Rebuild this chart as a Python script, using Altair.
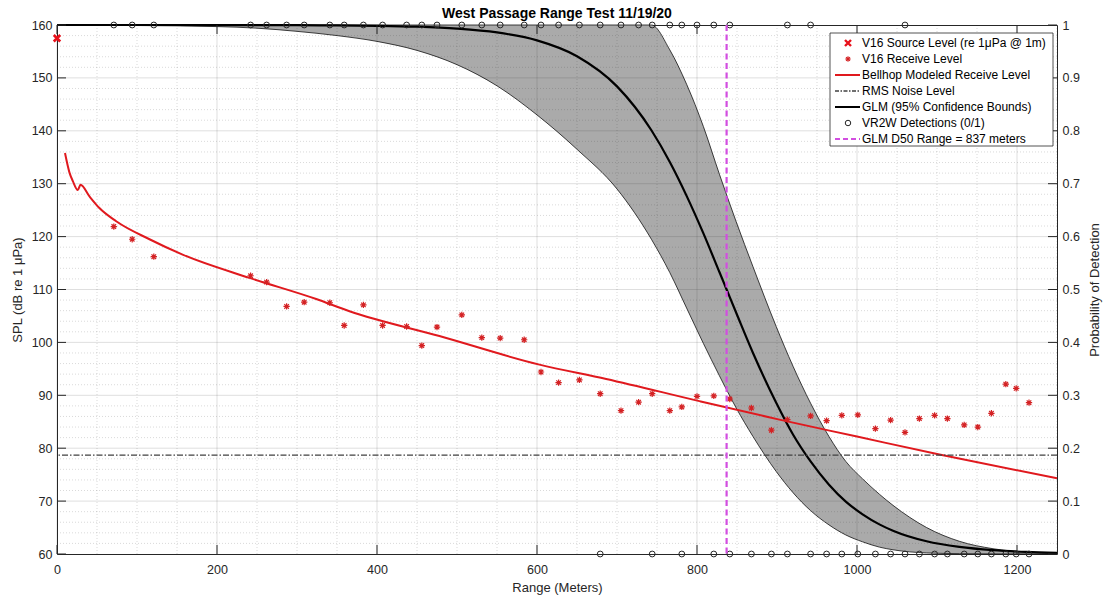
import altair as alt
import pandas as pd

FONT = "Liberation Sans"
TXT = "#262626"

# ---------------- data ----------------
# Bellhop modeled receive level (range m, SPL dB)
model_range = [10, 15.6, 19.8, 26, 29.4, 40.6, 53, 74, 115.6, 157, 240.6, 324, 365.6, 478,
               603, 686.5, 803, 903, 1000, 1103, 1250]
model_spl = [135.8, 132.1, 130.5, 128.8, 129.8, 127.6, 125.4, 122.9, 119.5, 116.6, 112.2, 108.2,
             105.9, 101.2, 95.8, 93.1, 88.9, 85.4, 82.2, 78.8, 74.3]

# V16 receive level points
recv_range = [71, 94, 121, 242, 262, 287, 309, 341, 359, 383, 407, 437, 456, 475, 506, 531, 554,
              584, 605, 627, 653, 679, 705, 727, 744, 766, 781, 800, 821, 841, 868, 893, 913, 942,
              962, 981, 1001, 1023, 1042, 1060, 1078, 1097, 1113, 1134, 1151, 1168, 1186, 1199, 1215]
recv_spl = [121.9, 119.5, 116.2, 112.6, 111.4, 106.8, 107.6, 107.5, 103.2, 107.1, 103.2, 103.0,
            99.4, 102.9, 105.2, 100.9, 100.8, 100.5, 94.4, 92.4, 92.9, 90.3, 87.1, 88.7, 90.3,
            87.1, 87.8, 89.8, 89.9, 89.3, 87.6, 83.4, 85.4, 86.1, 85.2, 86.2, 86.3, 83.7, 85.3,
            83.0, 85.6, 86.2, 85.6, 84.4, 84.0, 86.6, 92.1, 91.3, 88.6]

# V16 source level
src_range = [0]
src_spl = [157.5]

# RMS noise level
noise_spl = [78.7]

# GLM 95% confidence band
band_range = [0, 100, 200, 250, 300, 350, 400, 450, 500, 550, 600, 650, 700, 743, 766, 787, 808,
              828, 849, 870, 899, 920, 942, 965, 986, 1007, 1028, 1045, 1087, 1128, 1170, 1212, 1250]
band_lower = [0.9995, 0.999, 0.997, 0.994, 0.988, 0.980, 0.969, 0.952, 0.925, 0.885, 0.830, 0.765,
              0.690, 0.595, 0.532, 0.465, 0.398, 0.337, 0.276, 0.222, 0.156, 0.116, 0.082, 0.055,
              0.036, 0.023, 0.013, 0.008, 0.002, 0.0007, 0.0003, 0.0001, 0.0]
band_upper = [1.0, 1.0, 1.0, 1.0, 1.0, 1.0, 1.0, 1.0, 1.0, 1.0, 1.0, 1.0, 1.0, 1.0, 0.953, 0.888,
              0.808, 0.718, 0.628, 0.543, 0.430, 0.355, 0.285, 0.222, 0.175, 0.142, 0.113, 0.092,
              0.050, 0.024, 0.010, 0.0035, 0.0012]

# GLM fit
glm_range = [0, 100, 200, 300, 350, 400, 450, 500, 550, 600, 650, 700, 743, 766, 787, 808,
             828, 837, 849, 870, 899, 920, 942, 965, 986, 1007, 1028, 1045, 1087, 1128, 1170, 1212, 1250]
glm_p = [1.0, 1.0, 0.9999, 0.9996, 0.9993, 0.9985, 0.9968, 0.9932, 0.9859, 0.971, 0.941, 0.884,
         0.801, 0.741, 0.677, 0.606, 0.533, 0.500, 0.456, 0.380, 0.286, 0.226, 0.175, 0.131,
         0.099, 0.075, 0.056, 0.044, 0.024, 0.0133, 0.0072, 0.0039, 0.0022]

# VR2W detections (0/1)
det_range = [71, 94, 121, 242, 262, 287, 309, 341, 359, 383, 407, 437, 456, 475, 506, 531, 554,
             584, 605, 627, 653, 679, 705, 727, 744, 766, 781, 800, 821, 841, 913, 942, 1060,
             679, 744, 781, 821, 841, 868, 893, 913, 942, 962, 981, 1001, 1023, 1042, 1060, 1078,
             1097, 1113, 1134, 1151, 1168, 1186, 1199, 1215]
det_value = [1] * 33 + [0] * 24

d50_range = [837]

# axis / grid positions
x_major = [0, 200, 400, 600, 800, 1000, 1200]
x_minor = [v for v in range(50, 1251, 50) if v % 200 != 0]
spl_major = [60, 70, 80, 90, 100, 110, 120, 130, 140, 150, 160]
p_major = [0, 0.1, 0.2, 0.3, 0.4, 0.5, 0.6, 0.7, 0.8, 0.9, 1]
p_grid_major = [0.1, 0.2, 0.3, 0.4, 0.5, 0.6, 0.7, 0.8, 0.9]
p_grid_minor = [round(i * 0.02, 2) for i in range(1, 50) if i % 5 != 0]

legend_labels = ["V16 Source Level (re 1μPa @ 1m)", "V16 Receive Level",
                 "Bellhop Modeled Receive Level", "RMS Noise Level",
                 "GLM (95% Confidence Bounds)", "VR2W Detections (0/1)",
                 "GLM D50 Range = 837 meters"]

# ---------------- styling ----------------
W, H = 1000, 529
RED = "#e0191e"
RED_PT = "#d42224"
MAG = "#d24ee0"
XPATH = "M-1,-1L1,1M-1,1L1,-1"
STAR = "M-1,0L1,0M0,-1L0,1M-0.72,-0.72L0.72,0.72M-0.72,0.72L0.72,-0.72"

xscale = alt.Scale(domain=[0, 1250], nice=False, zero=False)
yscale = alt.Scale(domain=[60, 160], nice=False, zero=False)
pscale = alt.Scale(domain=[0, 1], nice=False, zero=False)

xaxis = alt.Axis(values=x_major, format="d", title="Range (Meters)", grid=False, ticks=False,
                 domain=False, labelFlush=False, labelPadding=9, titlePadding=6,
                 labelFontSize=12.5, titleFontSize=13, titleFontWeight="normal",
                 labelColor=TXT, titleColor=TXT, labelFont=FONT, titleFont=FONT)
yaxis = alt.Axis(values=spl_major, title="SPL (dB re 1 μPa)", grid=False, ticks=False,
                 domain=False, orient="left", labelFlush=False, labelPadding=5, titlePadding=7,
                 labelFontSize=12.5, titleFontSize=13, titleFontWeight="normal",
                 labelColor=TXT, titleColor=TXT, labelFont=FONT, titleFont=FONT)
paxis = alt.Axis(values=p_major, format="~g", title="Probability of Detection", grid=False,
                 ticks=False, domain=False, orient="right", labelFlush=False, labelPadding=5,
                 titlePadding=22, titleAngle=270, labelFontSize=12.5, titleFontSize=13,
                 titleFontWeight="normal", labelColor=TXT, titleColor=TXT, labelFont=FONT,
                 titleFont=FONT)

X = alt.X("range:Q", scale=xscale, axis=xaxis)

# ---------------- group A: band, grid, GLM (probability scale, no axis) ----------------
band_df = pd.DataFrame({"range": band_range, "lo": band_lower, "hi": band_upper})
glm_df = pd.DataFrame({"range": glm_range, "p": glm_p})
PA = lambda f: alt.Y(f, scale=pscale, axis=None)

band_area = alt.Chart(band_df).mark_area(color="#aaaaaa", opacity=1,
                                         interpolate="monotone").encode(
    x=X, y=PA("lo:Q"), y2="hi:Q")
grid_xmin = alt.Chart(pd.DataFrame({"range": x_minor})).mark_rule(
    color="#262626", opacity=0.22, strokeDash=[1, 2], strokeWidth=0.8).encode(x=X)
grid_xmaj = alt.Chart(pd.DataFrame({"range": x_major})).mark_rule(
    color="#262626", opacity=0.15, strokeWidth=1).encode(x=X)
grid_ymin = alt.Chart(pd.DataFrame({"p": p_grid_minor})).mark_rule(
    color="#262626", opacity=0.22, strokeDash=[1, 2], strokeWidth=0.8).encode(y=PA("p:Q"))
grid_ymaj = alt.Chart(pd.DataFrame({"p": p_grid_major})).mark_rule(
    color="#262626", opacity=0.15, strokeWidth=1).encode(y=PA("p:Q"))
band_lo = alt.Chart(band_df).mark_line(color="#111111", strokeWidth=0.8,
                                       interpolate="monotone").encode(x=X, y=PA("lo:Q"))
band_hi = alt.Chart(band_df).mark_line(color="#111111", strokeWidth=0.8,
                                       interpolate="monotone").encode(x=X, y=PA("hi:Q"))
glm_line = alt.Chart(glm_df).mark_line(color="#000000", strokeWidth=2.2,
                                       interpolate="monotone").encode(x=X, y=PA("p:Q"))

groupA = alt.layer(band_area, grid_xmin, grid_xmaj, grid_ymin, grid_ymaj, band_lo, band_hi,
                   glm_line)

# ---------------- group B: SPL (left axis) ----------------
Y = alt.Y("spl:Q", scale=yscale, axis=yaxis)
model_df = pd.DataFrame({"range": model_range, "spl": model_spl})
recv_df = pd.DataFrame({"range": recv_range, "spl": recv_spl})
src_df = pd.DataFrame({"range": src_range, "spl": src_spl})

model_line = alt.Chart(model_df).mark_line(color=RED, strokeWidth=2,
                                           interpolate="monotone").encode(x=X, y=Y)
recv_pts = alt.Chart(recv_df).mark_point(shape=STAR, filled=False, size=40, strokeWidth=1.2,
                                         color=RED_PT, opacity=1).encode(x=X, y=Y)
src_pt = alt.Chart(src_df).mark_point(shape=XPATH, filled=False, size=42, strokeWidth=2.6,
                                      color="#e8101a", opacity=1).encode(x=X, y=Y)
noise_rule = alt.Chart(pd.DataFrame({"spl": noise_spl})).mark_rule(
    color="#404040", strokeWidth=1.3, strokeDash=[6, 2, 1.5, 2]).encode(y=Y)
left_ticks = alt.Chart(pd.DataFrame({"spl": spl_major})).mark_rule(
    color=TXT, strokeWidth=1).encode(y=Y, x=alt.value(0), x2=alt.value(9))
bot_ticks = alt.Chart(pd.DataFrame({"range": x_major})).mark_rule(
    color=TXT, strokeWidth=1).encode(x=X, y=alt.value(H), y2=alt.value(H - 9))
top_ticks = alt.Chart(pd.DataFrame({"range": x_major})).mark_rule(
    color=TXT, strokeWidth=1).encode(x=X, y=alt.value(0), y2=alt.value(9))

groupB = alt.layer(model_line, noise_rule, recv_pts, src_pt, left_ticks, bot_ticks, top_ticks)

# ---------------- group C: probability (right axis) ----------------
P = alt.Y("p:Q", scale=pscale, axis=paxis)
det_df = pd.DataFrame({"range": det_range, "p": det_value})
det_pts = alt.Chart(det_df).mark_point(shape="circle", filled=False, size=34, strokeWidth=1,
                                       color="#262626", opacity=1).encode(x=X, y=P)
d50_rule = alt.Chart(pd.DataFrame({"range": d50_range})).mark_rule(
    color=MAG, strokeWidth=2.2, strokeDash=[6, 3.5]).encode(x=X)
right_ticks = alt.Chart(pd.DataFrame({"p": p_major})).mark_rule(
    color=TXT, strokeWidth=1).encode(y=P, x=alt.value(W), x2=alt.value(W - 9))

# legend (drawn inside the plot, top right)
one = pd.DataFrame({"k": [0]})
LX0, LX1 = 773, 996
LY0, LY1 = 8, 121
rows = [18, 34, 50, 66, 82, 98, 114]
SX0, SX1, SXC, TX = 778, 803, 791, 805

leg = [alt.Chart(one).mark_rect(fill="white", stroke="#262626", strokeWidth=0.8).encode(
    x=alt.value(LX0), x2=alt.value(LX1), y=alt.value(LY0), y2=alt.value(LY1))]
leg.append(alt.Chart(one).mark_point(shape=XPATH, filled=False, size=36, strokeWidth=2.4,
                                     color="#e8101a", opacity=1).encode(
    x=alt.value(SXC), y=alt.value(rows[0])))
leg.append(alt.Chart(one).mark_point(shape=STAR, filled=False, size=30, strokeWidth=1.1,
                                     color=RED_PT, opacity=1).encode(
    x=alt.value(SXC), y=alt.value(rows[1])))
leg.append(alt.Chart(one).mark_rule(color=RED, strokeWidth=2).encode(
    x=alt.value(SX0), x2=alt.value(SX1), y=alt.value(rows[2])))
leg.append(alt.Chart(one).mark_rule(color="#404040", strokeWidth=1.3,
                                    strokeDash=[4, 1.5, 1.5, 1.5]).encode(
    x=alt.value(SX0), x2=alt.value(SX1), y=alt.value(rows[3])))
leg.append(alt.Chart(one).mark_rule(color="#000000", strokeWidth=2).encode(
    x=alt.value(SX0), x2=alt.value(SX1), y=alt.value(rows[4])))
leg.append(alt.Chart(one).mark_point(shape="circle", filled=False, size=30, strokeWidth=1,
                                     color="#262626", opacity=1).encode(
    x=alt.value(SXC), y=alt.value(rows[5])))
leg.append(alt.Chart(one).mark_rule(color=MAG, strokeWidth=2, strokeDash=[5, 3]).encode(
    x=alt.value(SX0), x2=alt.value(SX1), y=alt.value(rows[6])))
for lab, ry in zip(legend_labels, rows):
    leg.append(alt.Chart(pd.DataFrame({"label": [lab]})).mark_text(
        align="left", baseline="middle", font=FONT, fontSize=12, color="#000000").encode(
        text="label:N", x=alt.value(TX), y=alt.value(ry)))

groupC = alt.layer(det_pts, d50_rule, right_ticks, *leg)

chart = alt.layer(groupA, groupB, groupC).resolve_scale(y="independent").properties(
    width=W, height=H,
    title=alt.Title("West Passage Range Test 11/19/20", font=FONT, fontSize=14,
                    fontWeight="bold", color="#000000", anchor="middle", offset=6, dy=8),
    autosize=alt.AutoSizeParams(type="none"),
    padding={"left": 57, "top": 25, "right": 52, "bottom": 47},
    background="white",
).configure_view(stroke="#262626", strokeWidth=1)

chart.save("out.html", embed_options={"renderer": "svg", "actions": False})
